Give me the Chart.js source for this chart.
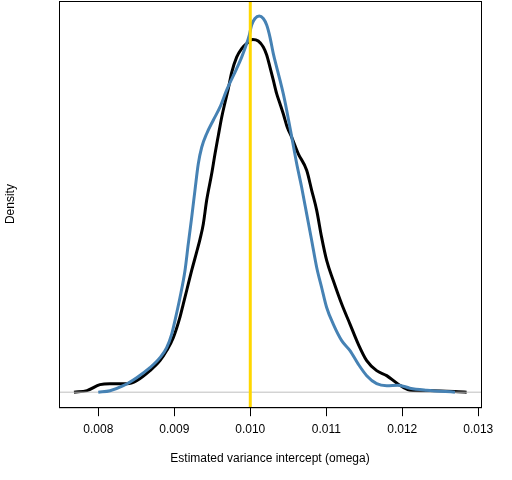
<!DOCTYPE html>
<html>
<head>
<meta charset="utf-8">
<script src="https://cdn.jsdelivr.net/npm/chart.js@4/dist/chart.umd.min.js"></script>
<style>
  html, body { margin: 0; padding: 0; background: #fff; }
  #wrap { width: 512px; height: 480px; }
</style>
</head>
<body>
<div id="wrap"><canvas id="densityChart" width="512" height="480"></canvas></div>
<script>
// density curve (black)
const blackX = [0.007680, 0.007851, 0.008022, 0.008154, 0.008378, 0.008505, 0.008680, 0.008812, 0.008900, 0.008987,
  0.009075, 0.009118, 0.009163, 0.009229, 0.009295, 0.009338, 0.009382, 0.009426, 0.009492, 0.009536,
  0.009579, 0.009624, 0.009667, 0.009711, 0.009755, 0.009821, 0.009887, 0.009953,
  0.010032, 0.010105, 0.010171, 0.010216, 0.010259, 0.010303, 0.010347, 0.010391, 0.010434, 0.010487,
  0.010545, 0.010632, 0.010742, 0.010808, 0.010874, 0.010939, 0.011005, 0.011092, 0.011203, 0.011312,
  0.011421, 0.011532, 0.011663, 0.011795, 0.011947, 0.012101, 0.012364, 0.012847];
const blackY = [0, 3, 15, 17, 17, 23, 43, 63, 83, 109,
  150, 176, 203, 243, 280, 305, 336, 383, 436, 476,
  512, 549, 578, 606, 638, 669, 686, 696,
  704, 701, 689, 673, 649, 623, 596, 576, 556, 529,
  509, 476, 443, 403, 363, 309, 263, 223, 176, 136,
  96, 63, 43, 33, 16, 4, 3, 0];

// second density curve (steelblue)
const blueX = [0.008000, 0.008154, 0.008329, 0.008505, 0.008680, 0.008812, 0.008900, 0.008966, 0.009009,
  0.009075, 0.009141, 0.009184, 0.009229, 0.009272, 0.009316, 0.009361, 0.009426, 0.009513, 0.009601,
  0.009689, 0.009821, 0.009887, 0.009953, 0.009987, 0.010018, 0.010062, 0.010118, 0.010171,
  0.010216, 0.010259, 0.010303, 0.010347, 0.010391, 0.010434, 0.010479, 0.010545, 0.010611, 0.010676,
  0.010742, 0.010808, 0.010874, 0.010939, 0.011005, 0.011092, 0.011203, 0.011312, 0.011421, 0.011532,
  0.011663, 0.011795, 0.011947, 0.012101, 0.012321, 0.012693];
const blueY = [0, 3, 13, 29, 49, 69, 89, 116, 143,
  189, 243, 296, 349, 403, 456, 489, 516, 543, 569,
  603, 646, 669, 696, 713, 733, 746, 751, 746,
  733, 709, 676, 649, 623, 596, 563, 510, 456, 409,
  356, 303, 249, 209, 169, 136, 103, 83, 56, 33,
  17, 13, 14, 8, 4, 0];

const xTicks = [0.008, 0.009, 0.010, 0.011, 0.012, 0.013];
const trueValue = 0.010;
const xRange = [0.007483, 0.013036];
const yRange = [-30, 781];

const toPoints = (xs, ys) => xs.map((x, i) => ({ x: x, y: ys[i] }));

// frame around the plot region, like R's box()
const boxPlugin = {
  id: "box",
  afterDraw(chart) {
    const a = chart.chartArea;
    const ctx = chart.ctx;
    ctx.save();
    ctx.strokeStyle = "#000";
    ctx.lineWidth = 1;
    ctx.strokeRect(a.left + 0.5, a.top + 0.5, a.right - a.left, a.bottom - a.top);
    ctx.restore();
  }
};

const ctx = document.getElementById("densityChart").getContext("2d");

new Chart(ctx, {
  type: "scatter",
  data: {
    datasets: [
      {
        label: "true",
        data: [{ x: trueValue, y: yRange[0] }, { x: trueValue, y: yRange[1] }],
        showLine: true,
        borderColor: "#FFD700",
        borderWidth: 3,
        pointRadius: 0,
        order: 0
      },
      {
        label: "blue",
        data: toPoints(blueX, blueY),
        showLine: true,
        borderColor: "#4682B4",
        borderWidth: 3,
        pointRadius: 0,
        cubicInterpolationMode: "monotone",
        order: 1
      },
      {
        label: "zero",
        data: [{ x: xRange[0], y: 0 }, { x: xRange[1], y: 0 }],
        showLine: true,
        borderColor: "#BEBEBE",
        borderWidth: 1,
        pointRadius: 0,
        order: 2
      },
      {
        label: "black",
        data: toPoints(blackX, blackY),
        showLine: true,
        borderColor: "#000000",
        borderWidth: 3,
        pointRadius: 0,
        cubicInterpolationMode: "monotone",
        order: 3
      }
    ]
  },
  options: {
    responsive: false,
    animation: false,
    devicePixelRatio: 1,
    layout: { padding: { left: 0, right: 31, top: 1, bottom: 14 } },
    plugins: {
      legend: { display: false },
      tooltip: { enabled: false }
    },
    scales: {
      x: {
        type: "linear",
        min: xRange[0],
        max: xRange[1],
        afterBuildTicks: axis => { axis.ticks = xTicks.map(v => ({ value: v })); },
        ticks: {
          color: "#000",
          padding: 6,
          maxRotation: 0,
          font: { family: "'Liberation Sans', Arial, sans-serif", size: 12 },
          callback: v => v.toFixed(3)
        },
        grid: {
          drawOnChartArea: false,
          drawTicks: true,
          tickLength: 9,
          color: "#000",
          lineWidth: 1
        },
        border: { display: true, color: "#000" },
        title: {
          display: true,
          text: "Estimated variance intercept (omega)",
          color: "#000",
          padding: { top: 9, bottom: 0 },
          font: { family: "'Liberation Sans', Arial, sans-serif", size: 12 }
        }
      },
      y: {
        type: "linear",
        min: yRange[0],
        max: yRange[1],
        ticks: { display: false },
        grid: { display: false, drawTicks: false },
        border: { display: false },
        title: {
          display: true,
          text: "Density",
          color: "#000",
          padding: { top: 3, bottom: 41.6 },
          font: { family: "'Liberation Sans', Arial, sans-serif", size: 12 }
        }
      }
    }
  },
  plugins: [boxPlugin]
});
</script>
</body>
</html>
